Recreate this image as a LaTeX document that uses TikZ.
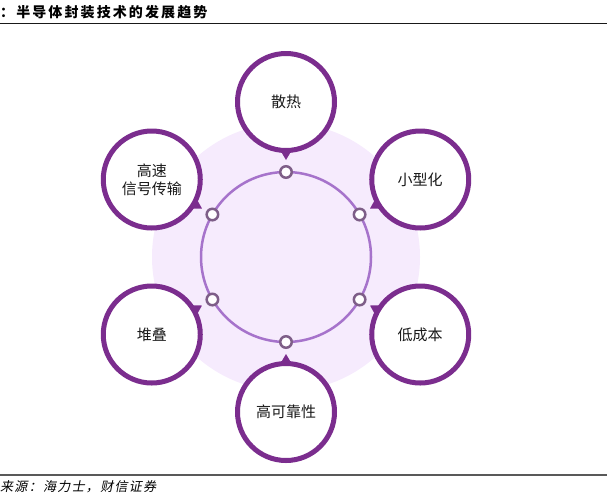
\documentclass[tikz,border=0pt]{standalone}
\usepackage{fontspec}
\newfontfamily\cjk{Noto Sans CJK SC}
\newfontfamily\cjktitle[LetterSpace=15]{Noto Sans CJK SC}
\newfontfamily\cjkit[FakeSlant=0.2,LetterSpace=10]{Noto Sans CJK SC}
\usetikzlibrary{calc}
\definecolor{bigpurple}{HTML}{7B2D8E}
\definecolor{bgpurple}{HTML}{F6EBFD}
\definecolor{ringpurple}{HTML}{A673CB}
\definecolor{dotgray}{HTML}{7E5E88}
\tikzset{
  bigcirc/.style={circle, draw=bigpurple, line width=5pt, fill=white,
    minimum size=97pt, inner sep=0pt, align=center,
    font=\cjk\fontsize{15pt}{18pt}\selectfont, text=black!90},
  dotcirc/.style={circle, draw=dotgray, line width=2.5pt, fill=white,
    minimum size=11.5pt, inner sep=0pt},
  tail/.style={fill=bigpurple, draw=none}
}
\begin{document}
\begin{tikzpicture}[x=1pt,y=-1pt]
\useasboundingbox (0,0) rectangle (607,499);
% header
\node[anchor=west, inner sep=0pt, font=\cjktitle\bfseries\fontsize{14pt}{16pt}\selectfont] (title) at (0,12) {：半导体封装技术的发展趋势};
\draw[line width=1.8pt, black!90] (0,23.5) -- (607,23.5);
% footer
\draw[line width=1.5pt, black!65] (0,475) -- (607,475);
\node[anchor=west, inner sep=0pt, font=\cjkit\fontsize{13pt}{15pt}\selectfont] (src) at (0,487) {来源：海力士，财信证券};
% background
\coordinate (C) at (286,257);
\fill[bgpurple] (C) circle (134);
\draw[ringpurple, line width=2.5pt] (C) circle (85);
% small dots and big circles
\foreach \n/\a/\t in {a/-90/散热, b/-30/小型化, c/30/低成本, d/90/高可靠性, e/150/堆叠, f/210/{高速\\信号传输}} {
  \node[dotcirc] (dot\n) at ($(C)+(\a:85)$) {};
  \node[bigcirc] (big\n) at ($(C)+(\a:155)$) {\t};
  \begin{scope}[shift={(big\n.center)}, rotate=180-\a]
    \fill[tail] (47,-6.5) -- (58,0) -- (47,6.5) -- cycle;
  \end{scope}
}
\end{tikzpicture}
\end{document}
